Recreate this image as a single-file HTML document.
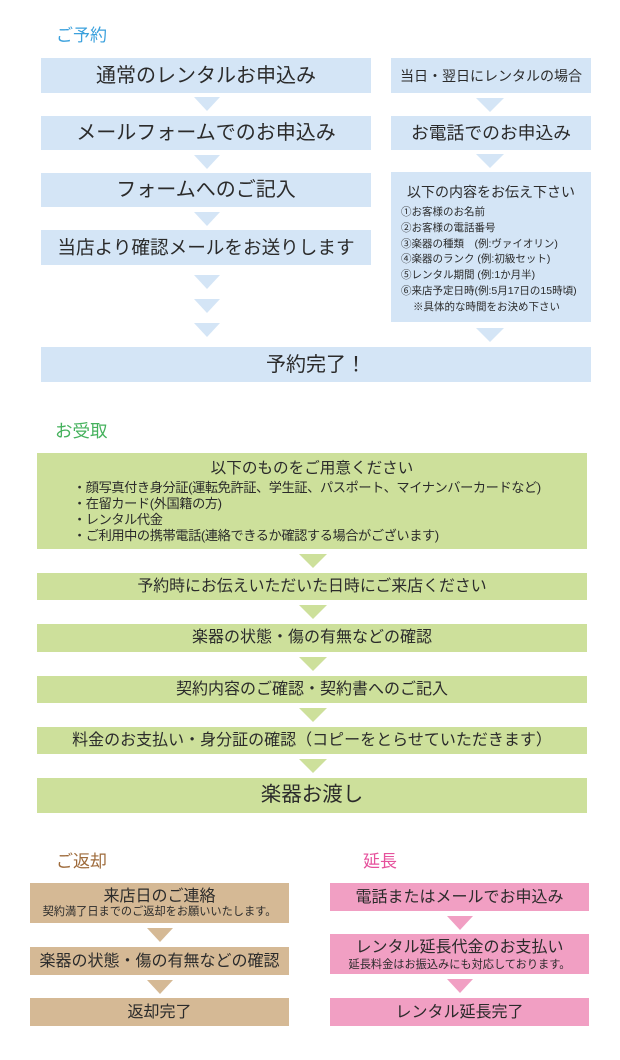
<!DOCTYPE html>
<html lang="ja">
<head>
<meta charset="utf-8">
<style>
html,body{margin:0;padding:0;background:#fff;}
body{width:620px;height:1060px;position:relative;overflow:hidden;font-family:"Liberation Sans","Noto Sans CJK JP",sans-serif;color:#2b2b2b;}
.b{position:absolute;}
.blue{background:#d4e5f6;}
.green{background:#cde09b;}
.brown{background:#d5b995;}
.pink{background:#f19fc3;}
.c{position:absolute;left:0;right:0;text-align:center;white-space:nowrap;}
.l{position:absolute;white-space:nowrap;}
.ar{position:absolute;width:0;height:0;border-left:13px solid transparent;border-right:13px solid transparent;border-top:14px solid #d4e5f6;}
.ar.g{border-top-color:#cde09b;border-left-width:14px;border-right-width:14px;}
.ar.br{border-top-color:#d5b995;}
.ar.p{border-top-color:#f19fc3;}
.ar.bw{border-left-width:14px;border-right-width:14px;}
.title{position:absolute;white-space:nowrap;font-size:17px;line-height:20px;}
</style>
</head>
<body>

<!-- ご予約 -->
<div class="title" style="left:56px;top:26px;color:#3ba1dd;">ご予約</div>

<div class="b blue" style="left:41px;top:58px;width:330px;height:35px;">
  <div class="c" style="top:6px;font-size:20px;line-height:24px;">通常のレンタルお申込み</div>
</div>
<div class="ar" style="left:194px;top:97px;"></div>
<div class="b blue" style="left:41px;top:116px;width:330px;height:34px;">
  <div class="c" style="top:5px;font-size:20px;line-height:24px;">メールフォームでのお申込み</div>
</div>
<div class="ar" style="left:194px;top:155px;"></div>
<div class="b blue" style="left:41px;top:173px;width:330px;height:34px;">
  <div class="c" style="top:5px;font-size:20px;line-height:24px;">フォームへのご記入</div>
</div>
<div class="ar" style="left:194px;top:212px;"></div>
<div class="b blue" style="left:41px;top:230px;width:330px;height:35px;">
  <div class="c" style="top:6px;font-size:18.6px;line-height:24px;">当店より確認メールをお送りします</div>
</div>
<div class="ar" style="left:194px;top:275px;"></div>
<div class="ar" style="left:194px;top:299px;"></div>
<div class="ar" style="left:194px;top:323px;"></div>

<div class="b blue" style="left:391px;top:58px;width:200px;height:35px;">
  <div class="c" style="top:8px;font-size:14px;line-height:20px;">当日・翌日にレンタルの場合</div>
</div>
<div class="ar bw" style="left:476px;top:98px;"></div>
<div class="b blue" style="left:391px;top:116px;width:200px;height:34px;">
  <div class="c" style="top:5px;font-size:17.8px;line-height:24px;">お電話でのお申込み</div>
</div>
<div class="ar bw" style="left:476px;top:154px;"></div>
<div class="b blue" style="left:391px;top:172px;width:200px;height:150px;">
  <div class="c" style="top:10px;font-size:14px;line-height:20px;">以下の内容をお伝え下さい</div>
  <div class="l" style="left:10px;top:33px;font-size:10.5px;line-height:15.8px;">
    ①お客様のお名前<br>
    ②お客様の電話番号<br>
    ③楽器の種類　(例:ヴァイオリン)<br>
    ④楽器のランク (例:初級セット)<br>
    ⑤レンタル期間 (例:1か月半)<br>
    ⑥来店予定日時(例:5月17日の15時頃)<br>
    <span style="padding-left:12px;">※具体的な時間をお決め下さい</span>
  </div>
</div>
<div class="ar bw" style="left:476px;top:328px;"></div>

<div class="b blue" style="left:41px;top:347px;width:550px;height:35px;">
  <div class="c" style="top:6px;font-size:20px;line-height:24px;">予約完了！</div>
</div>

<!-- お受取 -->
<div class="title" style="left:55px;top:421px;color:#44b15c;font-size:17.5px;">お受取</div>

<div class="b green" style="left:37px;top:453px;width:550px;height:96px;">
  <div class="c" style="top:6px;font-size:15.6px;line-height:20px;">以下のものをご用意ください</div>
  <div class="l" style="left:36px;top:27px;font-size:13.2px;line-height:15.9px;letter-spacing:-0.4px;">
    ・顔写真付き身分証(運転免許証、学生証、パスポート、マイナンバーカードなど)<br>
    ・在留カード(外国籍の方)<br>
    ・レンタル代金<br>
    ・ご利用中の携帯電話(連絡できるか確認する場合がございます)
  </div>
</div>
<div class="ar g" style="left:299px;top:554px;"></div>
<div class="b green" style="left:37px;top:573px;width:550px;height:27px;">
  <div class="c" style="top:3px;font-size:15.9px;line-height:22px;">予約時にお伝えいただいた日時にご来店ください</div>
</div>
<div class="ar g" style="left:299px;top:605px;"></div>
<div class="b green" style="left:37px;top:624px;width:550px;height:28px;">
  <div class="c" style="top:3px;font-size:16px;line-height:22px;">楽器の状態・傷の有無などの確認</div>
</div>
<div class="ar g" style="left:299px;top:657px;"></div>
<div class="b green" style="left:37px;top:676px;width:550px;height:27px;">
  <div class="c" style="top:3px;font-size:16px;line-height:22px;">契約内容のご確認・契約書へのご記入</div>
</div>
<div class="ar g" style="left:299px;top:708px;"></div>
<div class="b green" style="left:37px;top:727px;width:550px;height:27px;">
  <div class="c" style="top:3px;font-size:16px;line-height:22px;">料金のお支払い・身分証の確認（コピーをとらせていただきます）</div>
</div>
<div class="ar g" style="left:299px;top:759px;"></div>
<div class="b green" style="left:37px;top:778px;width:550px;height:35px;">
  <div class="c" style="top:5px;font-size:20.5px;line-height:24px;">楽器お渡し</div>
</div>

<!-- ご返却 -->
<div class="title" style="left:56px;top:852px;color:#9e6b3b;">ご返却</div>

<div class="b brown" style="left:30px;top:883px;width:259px;height:40px;">
  <div class="c" style="top:3px;font-size:16px;line-height:22px;">来店日のご連絡</div>
  <div class="c" style="top:22px;font-size:11.2px;line-height:15px;">契約満了日までのご返却をお願いいたします。</div>
</div>
<div class="ar br" style="left:147px;top:928px;"></div>
<div class="b brown" style="left:30px;top:947px;width:259px;height:28px;">
  <div class="c" style="top:4px;font-size:16px;line-height:22px;">楽器の状態・傷の有無などの確認</div>
</div>
<div class="ar br" style="left:147px;top:980px;"></div>
<div class="b brown" style="left:30px;top:998px;width:259px;height:28px;">
  <div class="c" style="top:4px;font-size:16px;line-height:22px;">返却完了</div>
</div>

<!-- 延長 -->
<div class="title" style="left:363px;top:852px;color:#e6519c;">延長</div>

<div class="b pink" style="left:330px;top:883px;width:259px;height:28px;">
  <div class="c" style="top:4px;font-size:16px;line-height:22px;">電話またはメールでお申込み</div>
</div>
<div class="ar p" style="left:447px;top:916px;"></div>
<div class="b pink" style="left:330px;top:934px;width:259px;height:40px;">
  <div class="c" style="top:3px;font-size:16px;line-height:22px;">レンタル延長代金のお支払い</div>
  <div class="c" style="top:24px;font-size:11.2px;line-height:15px;">延長料金はお振込みにも対応しております。</div>
</div>
<div class="ar p" style="left:447px;top:979px;"></div>
<div class="b pink" style="left:330px;top:998px;width:259px;height:28px;">
  <div class="c" style="top:4px;font-size:16px;line-height:22px;">レンタル延長完了</div>
</div>

</body>
</html>
